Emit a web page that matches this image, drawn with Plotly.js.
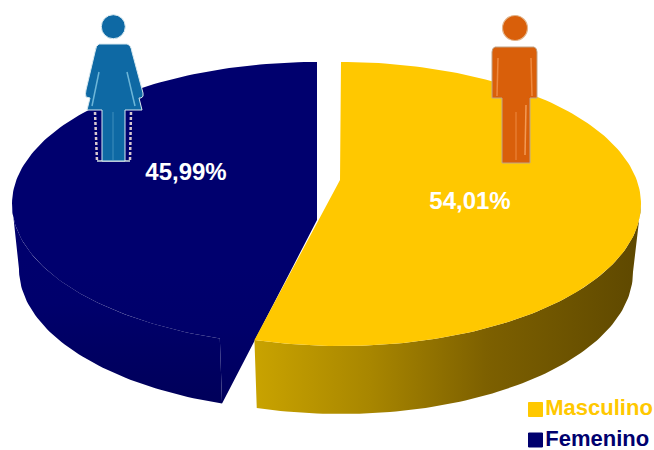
<!DOCTYPE html>
<html><head><meta charset="utf-8">
<script src="https://cdn.plot.ly/plotly-3.0.1.min.js"></script>
<style>html,body{margin:0;padding:0;background:#fff}#c{width:654px;height:450px}</style>
</head><body><div id="c"></div>
<script>
const categories = ['Masculino', 'Femenino'];
const shares = [54.01, 45.99];
const topColors = ['#ffc800', '#00006e'];

// pie geometry (in the 654x450 axis units)
const B = 142;
const yellow = {cx:341, cy:204, a:300, apexX:340, apexY:180, depth:68, botA:292, persp:1.012};
const blue   = {cx:317, cy:204, a:305, apexX:317, apexY:155, depth:65, botA:298, persp:0.975};
const rad = d => d*Math.PI/180;
const yellowEnd = shares[0]*3.6*yellow.persp;
const blueStart = 360 - shares[1]*3.6*blue.persp;

function arc(g, from, to, bottom){
  const xs=[], ys=[], n=Math.max(1,Math.round(Math.abs(to-from)/1.2));
  const a = bottom ? g.botA : g.a, cy = bottom ? g.cy+g.depth : g.cy;
  for(let i=0;i<=n;i++){
    const t=rad(from+(to-from)*i/n);
    xs.push(g.cx+a*Math.sin(t)); ys.push(cy-B*Math.cos(t));
  }
  return {xs,ys};
}
function poly(parts,fill,extra){
  const x=[],y=[];
  parts.forEach(p=>{x.push(...p.xs);y.push(...p.ys);});
  return Object.assign({type:'scatter',mode:'lines',x,y,fill:'toself',fillcolor:fill,
    line:{width:0,color:fill},hoverinfo:'skip',showlegend:false},extra||{});
}
const pt=(x,y)=>({xs:[x],ys:[y]});

const traces=[];
// Femenino: outer wall, then the top face with its cut face
traces.push(poly([arc(blue,blueStart,270,true),arc(blue,270,blueStart,false)],'#000060',{
  name:categories[1]+' lado',
  fillgradient:{type:'vertical',colorscale:[[0,'#00005a'],[0.25,'#000062'],[0.5,'#00006c'],[1,'#00006e']]}
}));
traces.push(poly([arc(blue,blueStart,360,false),pt(blue.apexX,blue.apexY+blue.depth),
  arc(blue,blueStart,blueStart,true)],topColors[1],{name:categories[1],
  fillgradient:{type:'vertical',colorscale:[[0,'#00005c'],[0.22,'#00006a'],[0.4,'#00006e'],[1,'#00006e']]}}));
// Masculino: outer wall with gradient, then the top face
traces.push(poly([arc(yellow,90,yellowEnd,true),arc(yellow,yellowEnd,90,false)],'#a07e00',{
  name:categories[0]+' lado',
  fillgradient:{type:'horizontal',colorscale:[[0,'#c9a300'],[0.3,'#a88600'],[0.6,'#7d6000'],[1,'#5e4800']]}
}));
traces.push(poly([pt(yellow.apexX,yellow.apexY),arc(yellow,0,yellowEnd,false)],topColors[0],{name:categories[0]}));

// percentage labels
const labelX=[470,186], labelY=[203,174];
traces.push({type:'scatter',mode:'text',x:labelX,y:labelY,
  text:shares.map(v=>v.toFixed(2).replace('.',',')+'%'),
  textposition:'middle center',
  textfont:{family:'Liberation Sans, Arial, sans-serif',size:24,color:'#ffffff',weight:700},
  hoverinfo:'skip',showlegend:false});

// legend drawn as markers with text
const legendY=[409.5,440];
categories.forEach((c,i)=>traces.push({type:'scatter',mode:'markers+text',name:c,
  x:[535.5],y:[legendY[i]],text:[c],textposition:'middle right',
  marker:{symbol:'square',size:14,color:topColors[i],line:{color:topColors[i],width:1}},
  textfont:{family:'Liberation Sans, Arial, sans-serif',size:22,color:topColors[i],weight:700},
  hoverinfo:'skip',showlegend:false}));

const W='#0e69a4', M='#d95f0a', clear='rgba(0,0,0,0)';
function s(path,fill,line,w,dash){return {type:'path',xref:'x',yref:'y',path,fillcolor:fill,
  line:{color:line||fill,width:w===undefined?0:w,dash:dash||'solid'},layer:'above'};}
function circ(cx,cy,r,fill,line,w){return {type:'circle',xref:'x',yref:'y',x0:cx-r,x1:cx+r,y0:cy-r,y1:cy+r,
  fillcolor:fill,line:{color:line||fill,width:w||0},layer:'above'};}
const womanBody='M99,44 L127,44 Q131,45 132,52 L143,93 Q144,97 141,98 L139,98 L142,110 L125,110 L125,161 L102,161 L102,110 L87,110 L90,98 L86,97 Q85,94 86,90 L95,52 Q96,45 99,44Z';
const manBody='M495,47 L534,47 Q537,48 537,52 L537,98 L530,98 L530,163 L502,163 L502,98 L492,98 L492,52 Q492,48 495,47Z';
const shapes=[
  s('M95,112 L97,161','#0a1f72','#d8c8d0',2.5,'3px,2px'),
  s('M131,112 L130,161','#0a1f72','#d8c8d0',2.5,'3px,2px'),
  s('M97,161 L130,161',clear,'#cfe0e0',1.5),
  s(womanBody,W,'#d8e9f0',1),
  circ(113.3,26.7,12,W,'#dcecf2',1),
  s('M99,72 L92,106',clear,'#6db6d8',1.5),
  s('M127,72 L135,106',clear,'#6db6d8',1.5),
  s('M113,112 L113,160',clear,'#3f8fbc',1),
  circ(515,28,12.5,M,'#e2b48a',1.2),
  s(manBody,M,'#bfa58a',1),
  s('M531,58 L532,96',clear,'#ee8a40',1.5),
  s('M498,58 L497,96',clear,'#ee8a40',1.5),
  s('M526,105 L525,155',clear,'#f29a55',1.5),
  s('M516,112 L516,160',clear,'#ee8a40',1)
];

Plotly.newPlot('c',traces,{
  width:654,height:450,margin:{l:0,r:0,t:0,b:0,pad:0},
  paper_bgcolor:'#ffffff',plot_bgcolor:'#ffffff',showlegend:false,
  xaxis:{range:[0,654],visible:false,fixedrange:true},
  yaxis:{range:[450,0],visible:false,fixedrange:true},
  shapes
},{displayModeBar:false,staticPlot:true});
</script></body></html>
